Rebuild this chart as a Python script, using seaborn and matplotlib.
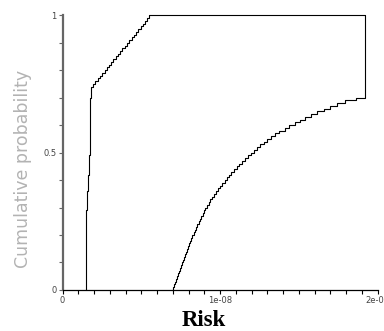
import numpy as np
import matplotlib
matplotlib.use('Agg')
import matplotlib.pyplot as plt
import seaborn as sns
from matplotlib.ticker import MultipleLocator, FixedLocator, FixedFormatter

# probability levels of the two step bounds (0.00, 0.01, ... 1.00)
levels = np.arange(101) / 100.0

# left (upper) bound, risk in units of 1e-9
left_x = [
    1.46, 1.46, 1.46, 1.46, 1.46, 1.46, 1.46, 1.46, 1.46, 1.46,
    1.46, 1.46, 1.46, 1.47, 1.47, 1.47, 1.47, 1.47, 1.47, 1.47,
    1.47, 1.47, 1.47, 1.48, 1.48, 1.48, 1.48, 1.49, 1.50, 1.51,
    1.52, 1.53, 1.54, 1.55, 1.56, 1.57, 1.58, 1.59, 1.60, 1.61,
    1.62, 1.63, 1.64, 1.65, 1.66, 1.67, 1.68, 1.69, 1.70, 1.70,
    1.71, 1.71, 1.72, 1.72, 1.72, 1.73, 1.73, 1.73, 1.74, 1.74,
    1.74, 1.75, 1.75, 1.75, 1.76, 1.76, 1.76, 1.77, 1.77, 1.77,
    1.77, 1.78, 1.78, 1.78, 1.80, 1.94, 2.08, 2.23, 2.37, 2.51,
    2.66, 2.80, 2.94, 3.09, 3.23, 3.37, 3.52, 3.66, 3.80, 3.95,
    4.09, 4.23, 4.38, 4.52, 4.66, 4.81, 4.95, 5.09, 5.24, 5.38,
    5.50,
]

# right (lower) bound, risk in units of 1e-9
right_x = [
    6.96, 7.02, 7.08, 7.15, 7.21, 7.28, 7.34, 7.40, 7.46, 7.52,
    7.59, 7.65, 7.71, 7.77, 7.83, 7.90, 7.96, 8.03, 8.10, 8.17,
    8.24, 8.31, 8.39, 8.47, 8.55, 8.63, 8.71, 8.79, 8.88, 8.97,
    9.06, 9.16, 9.27, 9.38, 9.50, 9.62, 9.74, 9.87, 10.00, 10.14,
    10.28, 10.42, 10.57, 10.72, 10.88, 11.04, 11.21, 11.38, 11.56, 11.74,
    11.93, 12.13, 12.33, 12.54, 12.76, 12.98, 13.22, 13.46, 13.72, 14.10,
    14.40, 14.72, 15.05, 15.40, 15.78, 16.17, 16.57, 16.98, 17.42, 17.92,
    18.60, 19.21, 19.21, 19.21, 19.21, 19.21, 19.21, 19.21, 19.21, 19.21,
    19.21, 19.21, 19.21, 19.21, 19.21, 19.21, 19.21, 19.21, 19.21, 19.21,
    19.21, 19.21, 19.21, 19.21, 19.21, 19.21, 19.21, 19.21, 19.21, 19.21,
    19.21,
]

x_ticks = [0, 1e-8, 2e-8]
x_tick_labels = ['0', '1e-08', '2e-08']
y_ticks = [0, 0.5, 1]
y_tick_labels = ['0', '0.5', '1']

sns.set_style('ticks')
plt.rcParams['font.family'] = ['DejaVu Sans']

fig = plt.figure(figsize=(3.84, 3.31), dpi=100)
ax = fig.add_axes([0.163, 0.124, 0.8206, 0.8298])

lx = np.array(left_x) * 1e-9
rx = np.array(right_x) * 1e-9
line_kw = dict(color='black', lw=0.8, estimator=None, sort=False,
               drawstyle='steps-post', ax=ax, clip_on=False)
sns.lineplot(x=lx, y=levels, **line_kw)
sns.lineplot(x=rx, y=levels, **line_kw)
ax.plot([lx[-1], rx[-1]], [levels[-1], levels[-1]], color='black', lw=0.8,
        clip_on=False)

ax.set_xlim(0, 2e-8)
ax.set_ylim(0, 1)

ax.xaxis.set_major_locator(FixedLocator(x_ticks))
ax.xaxis.set_major_formatter(FixedFormatter(x_tick_labels))
ax.xaxis.set_minor_locator(MultipleLocator(1e-9))
ax.yaxis.set_major_locator(FixedLocator(y_ticks))
ax.yaxis.set_major_formatter(FixedFormatter(y_tick_labels))
ax.yaxis.set_minor_locator(MultipleLocator(0.1))

ax.tick_params(axis='both', which='both', length=3, width=0.8,
               labelsize=6, labelcolor='#444444', pad=1.5)
ax.tick_params(axis='y', which='both', color='#666666')
ax.tick_params(axis='x', which='both', color='black')

sns.despine(ax=ax)
ax.spines['left'].set_color('#666666')
ax.spines['left'].set_linewidth(1.6)
ax.spines['bottom'].set_color('black')
ax.spines['bottom'].set_linewidth(0.9)

ax.set_ylabel('Cumulative probability', fontsize=12.5, color='#b3b3b3')
ax.yaxis.set_label_coords(-0.097, 0.44)
ax.set_xlabel('Risk', fontsize=16.5, fontweight='bold',
              family='Liberation Serif', color='black')
ax.xaxis.set_label_coords(0.449, -0.072)

fig.savefig('out.png', dpi=100)
